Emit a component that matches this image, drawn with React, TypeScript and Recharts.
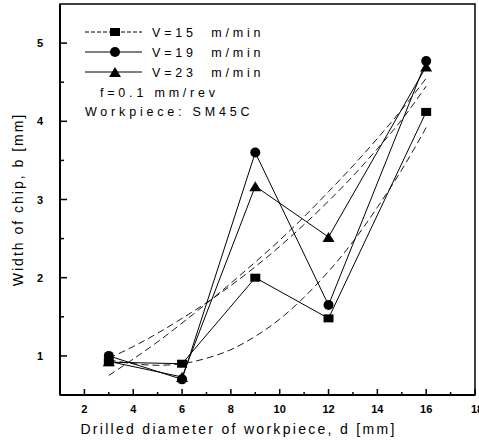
import {
  LineChart,
  Line,
  XAxis,
  YAxis,
  ReferenceArea,
} from 'recharts'

// measured diameters
const DIAMETERS = [3, 6, 9, 12, 16]

// chip width b [mm] per cutting speed
const V15 = [0.92, 0.9, 2.0, 1.48, 4.12]
const V19 = [1.0, 0.7, 3.6, 1.65, 4.77]
const V23 = [0.93, 0.73, 3.17, 2.52, 4.7]

const FIT_X = [3, 4, 5, 6, 7, 8, 9, 10, 11, 12, 13, 14, 15, 16]
const FIT_A = [0.95, 0.9, 0.88, 0.9, 0.97, 1.08, 1.25, 1.47, 1.75, 2.08, 2.46, 2.9, 3.38, 3.92]
const FIT_B = [0.97, 1.12, 1.29, 1.48, 1.68, 1.9, 2.14, 2.4, 2.68, 2.98, 3.3, 3.65, 4.02, 4.45]
const FIT_C = [0.75, 0.96, 1.18, 1.42, 1.67, 1.93, 2.2, 2.48, 2.78, 3.1, 3.43, 3.78, 4.15, 4.55]

const X_TICKS = [2, 3, 4, 5, 6, 7, 8, 9, 10, 11, 12, 13, 14, 15, 16, 17, 18]
const Y_TICKS = [1, 1.5, 2, 2.5, 3, 3.5, 4, 4.5, 5]

const LEGEND_ITEMS = [
  { label: 'V=15  m/min', marker: 'square', dashed: true },
  { label: 'V=19  m/min', marker: 'circle', dashed: false },
  { label: 'V=23  m/min', marker: 'triangle', dashed: false },
]

const FONT = '"Liberation Sans", Arial, sans-serif'

const toPoints = (xs: number[], ys: number[]) => xs.map((x, i) => ({ x, y: ys[i] }))

const v15Data = toPoints(DIAMETERS, V15)
const v19Data = toPoints(DIAMETERS, V19)
const v23Data = toPoints(DIAMETERS, V23)
const fitAData = toPoints(FIT_X, FIT_A)
const fitBData = toPoints(FIT_X, FIT_B)
const fitCData = toPoints(FIT_X, FIT_C)

function Marker({ kind, cx, cy }: { kind: string; cx: number; cy: number }) {
  if (kind === 'square') return <rect x={cx - 5} y={cy - 4} width={10} height={8} fill="#000" />
  if (kind === 'circle') return <circle cx={cx} cy={cy} r={5} fill="#000" />
  return <polygon points={`${cx - 6},${cy + 5} ${cx + 6},${cy + 5} ${cx},${cy - 5}`} fill="#000" />
}

const dotOf = (kind: string) => (props: any) => {
  const { cx, cy, index } = props
  if (cx == null || cy == null) return <g key={index} />
  return <Marker key={index} kind={kind} cx={cx} cy={cy} />
}

function XTick({ x, y, payload }: any) {
  const v = payload.value
  const major = v % 2 === 0
  return (
    <g>
      <line x1={x} x2={x} y1={y} y2={y - (major ? 6 : 3)} stroke="#000" strokeWidth={1.5} />
      {major && (
        <text x={v === 18 ? x + 2 : x} y={y + 18} textAnchor="middle" fontSize={11} fontWeight="bold" fontFamily={FONT} fill="#000">
          {v}
        </text>
      )}
    </g>
  )
}

function YTick({ x, y, payload }: any) {
  const v = payload.value
  const major = Number.isInteger(v)
  return (
    <g>
      <line x1={x} x2={x + (major ? 7 : 4)} y1={y} y2={y} stroke="#000" strokeWidth={1.5} />
      {major && (
        <text x={x - 17} y={y + 4} textAnchor="end" fontSize={11} fontWeight="bold" fontFamily={FONT} fill="#000">
          {v}
        </text>
      )}
    </g>
  )
}

function LegendBox() {
  const textStyle = { fontFamily: FONT, fontSize: 12.5, letterSpacing: 3.8, fill: '#000', whiteSpace: 'pre' as const }
  return (
    <svg width={240} height={110} style={{ display: 'block' }}>
      {LEGEND_ITEMS.map((it, i) => {
        const cy = 12 + i * 20
        return (
          <g key={it.label}>
            <line
              x1={5}
              x2={62}
              y1={cy}
              y2={cy}
              stroke="#000"
              strokeWidth={1}
              strokeDasharray={it.dashed ? '4 2' : undefined}
            />
            <Marker kind={it.marker} cx={35} cy={cy} />
            <text x={72} y={cy + 4.5} style={textStyle}>
              {it.label}
            </text>
          </g>
        )
      })}
      <text x={20} y={76.5} style={textStyle}>
        f=0.1 mm/rev
      </text>
      <text x={5} y={95.5} style={textStyle}>
        Workpiece: SM45C
      </text>
    </svg>
  )
}

export default function App() {
  return (
    <div style={{ position: 'absolute', left: 0, top: 0, width: 479, height: 440, background: '#fff' }}>
      <LineChart width={479} height={440} margin={{ top: 4, right: 4, left: 0, bottom: 0 }}>
        <XAxis
          type="number"
          dataKey="x"
          domain={[1, 18]}
          ticks={X_TICKS}
          interval={0}
          tickSize={0}
          tickMargin={0}
          tick={<XTick />}
          axisLine={{ stroke: '#000', strokeWidth: 2 }}
          height={45}
          allowDataOverflow
          label={{
            value: 'Drilled diameter of workpiece, d [mm]',
            position: 'insideBottom',
            offset: 6,
            dx: -29,
            style: { fontFamily: FONT, fontSize: 14, letterSpacing: 2.3, fill: '#000' },
          }}
        />
        <YAxis
          type="number"
          dataKey="y"
          domain={[0.5, 5.5]}
          ticks={Y_TICKS}
          interval={0}
          tickSize={0}
          tickMargin={0}
          tick={<YTick />}
          axisLine={{ stroke: '#000', strokeWidth: 2 }}
          width={60}
          allowDataOverflow
          label={{
            value: 'Width of chip, b [mm]',
            angle: -90,
            position: 'insideLeft',
            offset: 18,
            style: { fontFamily: FONT, fontSize: 14, letterSpacing: 2, fill: '#000', textAnchor: 'middle' },
          }}
        />
        <ReferenceArea x1={1} x2={18} y1={0.5} y2={5.5} fill="none" stroke="#000" strokeWidth={1.5} />

        <Line data={fitAData} dataKey="y" type="monotone" stroke="#000" strokeWidth={0.9} strokeDasharray="7 4" dot={false} isAnimationActive={false} />
        <Line data={fitBData} dataKey="y" type="monotone" stroke="#000" strokeWidth={0.9} strokeDasharray="7 4" dot={false} isAnimationActive={false} />
        <Line data={fitCData} dataKey="y" type="monotone" stroke="#000" strokeWidth={0.9} strokeDasharray="7 4" dot={false} isAnimationActive={false} />

        <Line data={v15Data} dataKey="y" type="linear" stroke="#000" strokeWidth={1} dot={dotOf('square')} isAnimationActive={false} />
        <Line data={v19Data} dataKey="y" type="linear" stroke="#000" strokeWidth={1} dot={dotOf('circle')} isAnimationActive={false} />
        <Line data={v23Data} dataKey="y" type="linear" stroke="#000" strokeWidth={1} dot={dotOf('triangle')} isAnimationActive={false} />
      </LineChart>
      <div style={{ position: 'absolute', left: 80, top: 20 }}>
        <LegendBox />
      </div>
    </div>
  )
}
